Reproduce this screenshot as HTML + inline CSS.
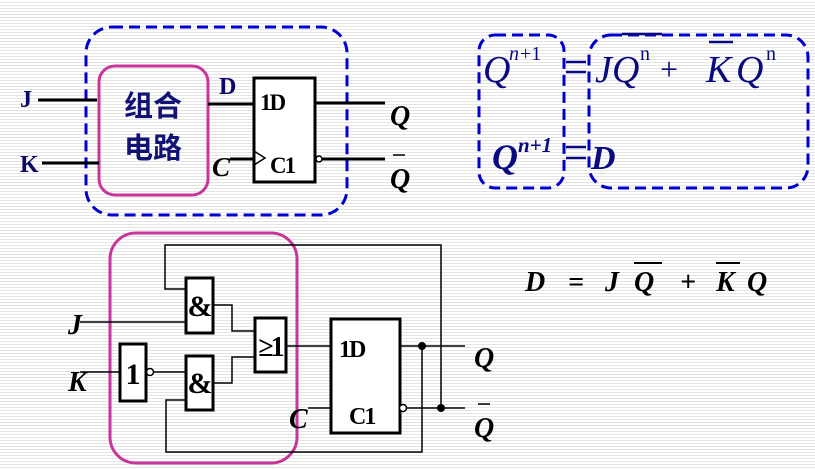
<!DOCTYPE html>
<html><head><meta charset="utf-8"><style>
html,body{margin:0;padding:0;}
body{width:815px;height:469px;overflow:hidden;background:#fff repeating-linear-gradient(to bottom,#fff 0,#fff 2px,#e4e4e4 2px,#e4e4e4 3px);}
svg{position:absolute;left:0;top:0;}
.s{font-family:"Liberation Serif",serif;font-weight:bold;fill:#000;}
.n{fill:#0a0a66;}
</style></head><body>
<svg width="815" height="469" viewBox="0 0 815 469">
<g fill="none" stroke="#0000cc" stroke-width="3" stroke-dasharray="11,6">
<rect x="86" y="27" width="261" height="188" rx="26"/>
<rect x="479" y="35" width="85" height="153" rx="16"/>
<rect x="589" y="35" width="219" height="153" rx="22"/>
</g>
<g fill="none" stroke="#c8369a" stroke-width="3">
<rect x="99" y="66" width="109" height="129" rx="16"/>
<rect x="110" y="233" width="187" height="230" rx="26"/>
</g>
<g stroke="#000" stroke-width="3" fill="none">
<line x1="38" y1="100" x2="97" y2="100"/><line x1="42" y1="163" x2="99" y2="163"/>
<line x1="208" y1="104" x2="253" y2="104"/>
<rect x="254" y="78" width="61" height="104" fill="#fff"/>
<line x1="230" y1="159" x2="254" y2="159"/>
<line x1="315" y1="103" x2="385" y2="103"/>
<line x1="322" y1="159" x2="385" y2="159"/>
</g>
<polyline points="254,151 265,158 254,165" fill="none" stroke="#000" stroke-width="1.5"/>
<circle cx="319" cy="159" r="3" fill="#fff" stroke="#000" stroke-width="1.5"/>
<text x="20" y="107" class="s n" font-size="24">J</text>
<text x="20" y="172" class="s n" font-size="24">K</text>
<text x="153" y="116" font-family="'Liberation Sans','Noto Sans CJK SC',sans-serif" font-weight="bold" font-size="29" fill="#121275" text-anchor="middle">组合</text>
<text x="153" y="158" font-family="'Liberation Sans','Noto Sans CJK SC',sans-serif" font-weight="bold" font-size="29" fill="#121275" text-anchor="middle">电路</text>
<text x="219" y="94" class="s n" font-size="24">D</text>
<text x="260" y="110" class="s" font-size="23" letter-spacing="-2">1D</text>
<text x="270" y="173" class="s" font-size="23" letter-spacing="-2">C1</text>
<text x="212" y="176" class="s" font-size="27" font-style="italic">C</text>
<text x="390" y="125" class="s" font-size="28" font-style="italic">Q</text>
<text x="390" y="188" class="s" font-size="28" font-style="italic">Q</text>
<line x1="393" y1="155" x2="405" y2="155" stroke="#000" stroke-width="1.5"/>
<!-- formulas -->
<g font-family="'Liberation Serif',serif" fill="#0a0a80">
<text x="483" y="82" font-size="38" font-style="italic">Q</text>
<text x="509" y="60" font-size="20" font-style="italic">n</text>
<text x="520" y="60" font-size="20">+1</text>
<text x="595" y="82" font-size="38" font-style="italic">J</text>
<text x="612" y="82" font-size="38" font-style="italic">Q</text>
<text x="640" y="60" font-size="20">n</text>
<text x="660" y="80" font-size="32">+</text>
<text x="706" y="82" font-size="38" font-style="italic">K</text>
<text x="736" y="82" font-size="38" font-style="italic">Q</text>
<text x="766" y="60" font-size="20">n</text>
<text x="492" y="169" font-size="36" font-style="italic" font-weight="bold">Q</text>
<text x="518" y="152" font-size="21" font-style="italic" font-weight="bold">n+1</text>
<text x="591" y="169" font-size="34" font-style="italic" font-weight="bold">D</text>
</g>
<g stroke="#0a0a80" stroke-width="2.5">
<line x1="622" y1="34" x2="662" y2="34"/><line x1="709" y1="42" x2="733" y2="42"/>
<line x1="566" y1="62" x2="586" y2="62"/><line x1="566" y1="72" x2="586" y2="72"/>
<line x1="566" y1="147" x2="586" y2="147"/><line x1="566" y1="158" x2="586" y2="158"/>
</g>
<!-- bottom circuit -->
<g stroke="#000" stroke-width="1.5" fill="none">
<polyline points="185,289 165,289 165,245 441,245 441,408"/>
<line x1="80" y1="322" x2="185" y2="322"/>
<line x1="80" y1="372" x2="119" y2="372"/>
<line x1="153" y1="372" x2="185" y2="372"/>
<polyline points="185,400 166,400 166,452 422,452 422,346"/>
<polyline points="213,305 232,305 232,331 254,331"/>
<polyline points="213,383 232,383 232,357 254,357"/>
<line x1="286" y1="346" x2="330" y2="346"/>
<line x1="308" y1="408" x2="330" y2="408"/>
<line x1="400" y1="346" x2="465" y2="346"/>
<line x1="406" y1="408" x2="465" y2="408"/>
<polyline points="330,401 341,408 330,415"/>
<line x1="478" y1="404" x2="490" y2="404"/>
</g>
<g stroke="#000" stroke-width="3" fill="#fff">
<rect x="186" y="278" width="27" height="55"/>
<rect x="186" y="356" width="27" height="54"/>
<rect x="120" y="344" width="26" height="57"/>
<rect x="255" y="318" width="31" height="54"/>
<rect x="331" y="319" width="69" height="114"/>
</g>
<circle cx="150" cy="372" r="3.5" fill="#fff" stroke="#000" stroke-width="1.5"/>
<circle cx="403" cy="408" r="3.5" fill="#fff" stroke="#000" stroke-width="1.5"/>
<circle cx="422" cy="346" r="4" fill="#000"/>
<circle cx="441" cy="408" r="4" fill="#000"/>
<text x="200" y="316" class="s" font-size="30" text-anchor="middle">&amp;</text>
<text x="200" y="393" class="s" font-size="30" text-anchor="middle">&amp;</text>
<text x="133" y="384" class="s" font-size="30" text-anchor="middle">1</text>
<text x="270" y="356" class="s" font-size="28" font-weight="normal" text-anchor="middle" letter-spacing="-3">≥1</text>
<text x="339" y="357" class="s" font-size="24" letter-spacing="-2">1D</text>
<text x="349" y="424" class="s" font-size="24" letter-spacing="-2">C1</text>
<text x="68" y="334" class="s" font-size="28" font-style="italic">J</text>
<text x="68" y="391" class="s" font-size="28" font-style="italic">K</text>
<text x="289" y="428" class="s" font-size="28" font-style="italic">C</text>
<text x="474" y="367" class="s" font-size="28" font-style="italic">Q</text>
<text x="474" y="437" class="s" font-size="28" font-style="italic">Q</text>
<g class="s" font-size="28" font-style="italic">
<text x="525" y="291">D</text><text x="568" y="291">=</text><text x="605" y="291">J</text>
<text x="634" y="291">Q</text><text x="680" y="291">+</text><text x="716" y="291">K</text><text x="747" y="291">Q</text>
</g>
<g stroke="#000" stroke-width="2"><line x1="634" y1="263" x2="662" y2="263"/><line x1="716" y1="263" x2="740" y2="263"/></g>
</svg>
</body></html>
